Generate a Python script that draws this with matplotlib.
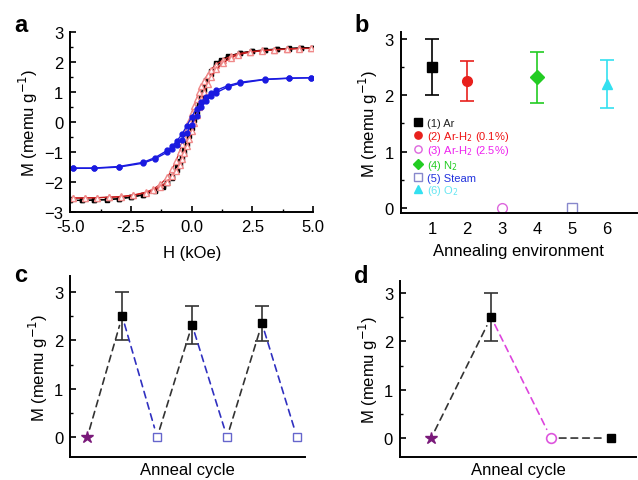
import matplotlib
matplotlib.use("Agg")
import matplotlib.pyplot as plt
from matplotlib.ticker import MultipleLocator

plt.rcParams['font.family'] = ['Liberation Sans', 'DejaVu Sans']
plt.rcParams['font.size'] = 12

# --- panel a: hysteresis loops (H in kOe, M in memu/g) ---
H_blk = [5.0, 4.5, 4.0, 3.5, 3.0, 2.5, 2.0, 1.5, 1.2, 1.0, 0.8, 0.6, 0.5, 0.4, 0.3, 0.2, 0.1, 0.0,
         -0.1, -0.2, -0.3, -0.4, -0.5, -0.6, -0.8, -1.0, -1.2, -1.5, -2.0, -2.5, -3.0, -3.5, -4.0, -4.5, -5.0]
M_blk_down = [2.48, 2.48, 2.46, 2.44, 2.41, 2.37, 2.31, 2.2, 2.08, 1.96, 1.72, 1.42, 1.22, 0.98, 0.72, 0.46, 0.2, -0.06,
              -0.32, -0.58, -0.84, -1.08, -1.3, -1.5, -1.8, -2.0, -2.14, -2.28, -2.42, -2.5, -2.55, -2.58, -2.6, -2.61, -2.61]
M_blk_up = [2.48, 2.47, 2.45, 2.43, 2.4, 2.36, 2.3, 2.18, 2.05, 1.9, 1.62, 1.3, 1.08, 0.84, 0.58, 0.32, 0.06, -0.2,
            -0.46, -0.72, -0.98, -1.2, -1.4, -1.58, -1.86, -2.04, -2.18, -2.3, -2.43, -2.51, -2.56, -2.59, -2.6, -2.61, -2.61]

H_red = [4.9, 4.4, 3.9, 3.4, 2.9, 2.4, 1.9, 1.6, 1.3, 1.0, 0.8, 0.65, 0.5, 0.4, 0.3, 0.2, 0.1, 0.0,
         -0.1, -0.2, -0.3, -0.4, -0.5, -0.65, -0.8, -1.0, -1.3, -1.6, -1.9, -2.4, -2.9, -3.4, -3.9, -4.4, -4.9]
M_red_down = [2.46, 2.46, 2.44, 2.42, 2.39, 2.35, 2.28, 2.2, 2.08, 1.92, 1.75, 1.58, 1.38, 1.2, 1.0, 0.78, 0.55, 0.3,
              0.04, -0.22, -0.48, -0.74, -0.98, -1.3, -1.56, -1.84, -2.08, -2.24, -2.34, -2.43, -2.48, -2.5, -2.52, -2.53, -2.53]
M_red_up = [2.46, 2.45, 2.43, 2.41, 2.38, 2.33, 2.25, 2.14, 1.98, 1.76, 1.52, 1.28, 1.0, 0.76, 0.5, 0.24, -0.02, -0.3,
            -0.56, -0.8, -1.02, -1.24, -1.42, -1.62, -1.8, -1.98, -2.16, -2.28, -2.36, -2.44, -2.49, -2.51, -2.52, -2.53, -2.53]

H_blu = [4.9, 4.0, 3.0, 2.0, 1.5, 1.0, 0.8, 0.6, 0.4, 0.2, 0.0, -0.2, -0.4, -0.6, -0.8, -1.0, -1.5, -2.0, -3.0, -4.0, -4.9]
M_blu_down = [1.48, 1.47, 1.43, 1.33, 1.22, 1.06, 0.97, 0.85, 0.68, 0.45, 0.18, -0.12, -0.4, -0.62, -0.8, -0.94,
              -1.18, -1.34, -1.48, -1.53, -1.53]
M_blu_up = [1.48, 1.46, 1.42, 1.3, 1.18, 0.98, 0.86, 0.7, 0.5, 0.22, -0.08, -0.36, -0.58, -0.75, -0.88, -1.0,
            -1.22, -1.37, -1.5, -1.54, -1.54]

# --- panel b: annealing environments ---
env_x = [1, 2, 3, 4, 5, 6]
env_M = [2.5, 2.25, 0.0, 2.32, 0.0, 2.2]
env_err = [0.5, 0.35, 0.0, 0.45, 0.0, 0.42]
env_labels = ['(1) Ar', '(2) Ar-H$_2$ (0.1%)', '(3) Ar-H$_2$ (2.5%)', '(4) N$_2$', '(5) Steam', '(6) O$_2$']
env_markers = ['s', 'o', 'o', 'D', 's', '^']
env_face = ['black', '#e8201c', 'white', '#22cc22', 'white', '#33e0f0']
env_edge = ['black', '#e8201c', '#dd66dd', '#22cc22', '#8888cc', '#33e0f0']
env_text = ['#222222', '#ee1111', '#ee22ee', '#22cc22', '#2233dd', '#66e6f2']

# --- panel c: repeated Ar / steam cycles ---
c_x = [0, 1, 2, 3, 4, 5, 6]
c_M = [0.0, 2.5, 0.0, 2.32, 0.0, 2.35, 0.0]
c_err = [0.0, 0.5, 0.0, 0.4, 0.0, 0.37, 0.0]
c_kind = ['star', 'ar', 'steam', 'ar', 'steam', 'ar', 'steam']
c_line = ['#333333', '#3030c0', '#333333', '#3030c0', '#333333', '#3030c0']

# --- panel d: Ar -> Ar-H2 (2.5%) -> Ar ---
d_x = [0, 1, 2, 3]
d_M = [0.0, 2.5, 0.0, 0.0]
d_err = [0.0, 0.5, 0.0, 0.0]
d_kind = ['star', 'ar', 'h2', 'ar']
d_line = ['#333333', '#dd44dd', '#333333']

styles = {
    'star': dict(marker='*', color='#7a1a7a', ms=9, mec='#7a1a7a'),
    'ar': dict(marker='s', color='black', ms=6),
    'steam': dict(marker='s', mfc='white', mec='#6666cc', ms=6, mew=1),
    'h2': dict(marker='o', mfc='white', mec='#dd55dd', ms=7, mew=1.2),
}

fig = plt.figure(figsize=(6.38, 4.81), dpi=100)
ax_a = fig.add_axes([0.110, 0.557, 0.381, 0.374])
ax_b = fig.add_axes([0.628, 0.555, 0.370, 0.376])
ax_c = fig.add_axes([0.110, 0.048, 0.368, 0.376])
ax_d = fig.add_axes([0.627, 0.048, 0.370, 0.366])

for ax in (ax_a, ax_b, ax_c, ax_d):
    ax.spines['top'].set_visible(False)
    ax.spines['right'].set_visible(False)
    ax.spines['left'].set_linewidth(1.4)
    ax.spines['bottom'].set_linewidth(1.4)
    ax.tick_params(direction='in', length=4, width=1.2, labelsize=12, pad=5)
    ax.tick_params(which='minor', direction='in', length=2.5, width=1)
    ax.yaxis.set_major_locator(MultipleLocator(1))
    ax.yaxis.set_minor_locator(MultipleLocator(0.5))
    ax.set_ylabel('M (memu g$^{-1}$)', fontsize=12, labelpad=3)

# panel a
ax_a.plot(H_blk, M_blk_down, 's-', color='black', ms=2.5, lw=0.9)
ax_a.plot(H_blk, M_blk_up, 's-', color='black', ms=2.5, lw=0.9)
ax_a.plot(H_red, M_red_down, '^-', color='#c81e1e', mfc='white', mec='#f08a8a', ms=4, lw=0.9)
ax_a.plot(H_red, M_red_up, '^-', color='#c81e1e', mfc='white', mec='#f08a8a', ms=4, lw=0.9)
ax_a.plot(H_blu, M_blu_down, 'o-', color='#1a1ae0', ms=3.5, lw=1)
ax_a.plot(H_blu, M_blu_up, 'o-', color='#1a1ae0', ms=3.5, lw=1)
ax_a.set_xlim(-5, 5)
ax_a.set_ylim(-3, 3)
ax_a.xaxis.set_major_locator(MultipleLocator(2.5))
ax_a.xaxis.set_minor_locator(MultipleLocator(1.25))
ax_a.xaxis.set_major_formatter(matplotlib.ticker.FormatStrFormatter('%.1f'))
ax_a.set_xlabel('H (kOe)', fontsize=12, labelpad=8)

# panel b
handles = []
for x, m, e, lab, mk, fc, ec in zip(env_x, env_M, env_err, env_labels, env_markers, env_face, env_edge):
    if e > 0:
        ax_b.errorbar(x, m, yerr=e, fmt='none', ecolor=ec, capsize=5, elinewidth=1.2, capthick=1.2)
    h, = ax_b.plot(x, m, linestyle='none', marker=mk, mfc=fc, mec=ec, ms=7, mew=1, label=lab)
    handles.append(h)
leg = ax_b.legend(handles=handles, loc='upper left', bbox_to_anchor=(0.03, 0.55), frameon=False,
                  fontsize=8, handletextpad=0.3, labelspacing=0.06, handlelength=1, markerscale=0.75,
                  borderaxespad=0)
for txt, col in zip(leg.get_texts(), env_text):
    txt.set_color(col)
ax_b.set_xlim(0.1, 6.85)
ax_b.set_ylim(-0.09, 3.12)
ax_b.set_xticks(env_x)
ax_b.tick_params(axis='x', length=0, pad=6)
ax_b.set_xlabel('Annealing environment', fontsize=12, labelpad=5)


def cycle_panel(ax, xs, ms, errs, kinds, lines):
    for i in range(len(xs) - 1):
        ax.annotate('', xy=(xs[i + 1], ms[i + 1]), xytext=(xs[i], ms[i]),
                    arrowprops=dict(arrowstyle='-', linestyle=(0, (4, 3)), color=lines[i],
                                    lw=1.2, shrinkA=6, shrinkB=7))
    for x, m, e, k in zip(xs, ms, errs, kinds):
        if e > 0:
            ax.errorbar(x, m, yerr=e, fmt='none', ecolor='#333333', capsize=5, elinewidth=1.2, capthick=1.2)
        ax.plot(x, m, linestyle='none', **styles[k])
    ax.set_xticks([])
    ax.set_xlabel('Anneal cycle', fontsize=12, labelpad=4)


cycle_panel(ax_c, c_x, c_M, c_err, c_kind, c_line)
ax_c.set_xlim(-0.49, 6.23)
ax_c.set_ylim(-0.41, 3.33)

cycle_panel(ax_d, d_x, d_M, d_err, d_kind, d_line)
ax_d.set_xlim(-0.52, 3.42)
ax_d.set_ylim(-0.39, 3.25)

for lab, x, y in [('a', 0.022, 0.946), ('b', 0.555, 0.946), ('c', 0.022, 0.428), ('d', 0.555, 0.426)]:
    fig.text(x, y, lab, fontsize=17, fontweight='bold', va='center', ha='left')

fig.savefig('out.png', dpi=100)
